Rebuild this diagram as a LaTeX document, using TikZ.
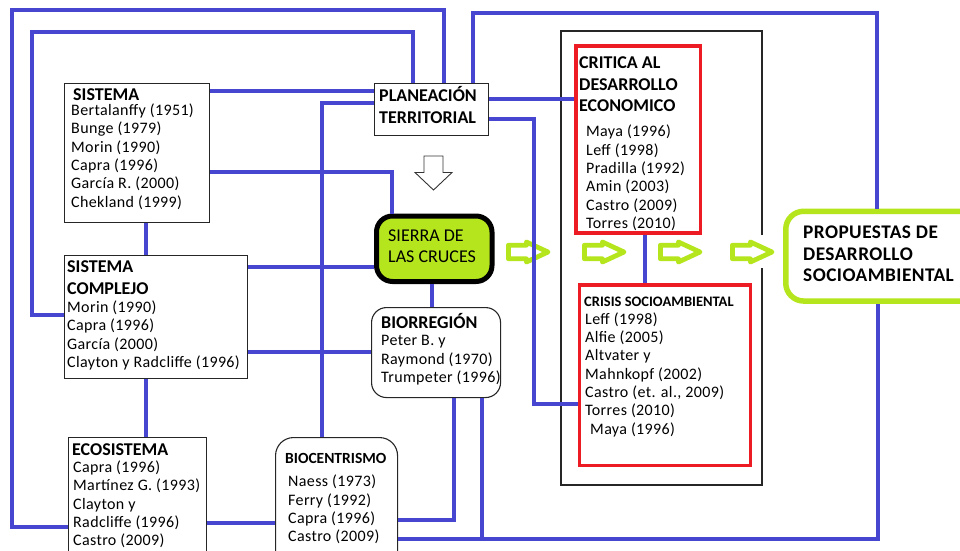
\documentclass[tikz,border=0pt]{standalone}
\usepackage{fontspec}
\setmainfont{Carlito}
\newfontfamily\bodyfont{Carlito}[LetterSpace=2.3]
\definecolor{linkblue}{RGB}{70,70,208}
\definecolor{boxred}{RGB}{237,28,36}
\definecolor{limegreen}{RGB}{181,230,29}
\newcommand\hdrfont{\fontsize{18}{21.7}\selectfont\rmfamily\bfseries}
\newcommand\firstline{\rule{0pt}{17pt}}
\begin{document}
\begin{tikzpicture}[x=1pt,y=-1pt,
  plainbox/.style={draw=black!85, line width=1.1pt, anchor=north west, inner sep=0pt},
  roundbox/.style={plainbox, rounded corners=15pt},
  redbox/.style={draw=boxred, line width=3.6pt, anchor=north west, inner sep=0pt},
  txt/.style={anchor=north west, inner sep=0pt, align=left, font=\bodyfont\fontsize{16}{18.3}\selectfont},
  hdrtxt/.style={anchor=north west, inner sep=0pt, align=left, font=\hdrfont},
  link/.style={draw=linkblue, line width=3.8pt},
  greenarrow/.style={draw=limegreen, line width=4.8pt, line join=round, fill=white},
]
\useasboundingbox (0,0) rectangle (960,550);

% thin frame around the two critique boxes, opened where the last arrow passes
\coordinate (frameNW) at (561,31);
\coordinate (frameSE) at (762,485);
\draw[line width=1.1pt, black!85] (frameSE |- 0,235) -- (frameSE |- frameNW) -- (frameNW)
  -- (frameNW |- frameSE) -- (frameSE) -- (frameSE |- 0,268);

% boxes
\node[plainbox, minimum width=145pt, minimum height=139pt] (sis) at (64,83) {};
\node[plainbox, minimum width=183pt, minimum height=123pt] (comp) at (64,255) {};
\node[plainbox, minimum width=138pt, minimum height=140pt] (eco) at (68,437) {};
\node[roundbox, minimum width=122pt, minimum height=140pt, rounded corners=18pt] (bioc) at (275,437) {};
\node[roundbox, minimum width=129pt, minimum height=90pt] (bior) at (371,307) {};
\node[plainbox, minimum width=114pt, minimum height=52pt] (plan) at (374,83) {};
\node[anchor=north west, inner sep=0pt, draw=black, line width=5pt, fill=limegreen,
      rounded corners=16pt, minimum width=115.5pt, minimum height=65.5pt] (sierra) at (374,213.5) {};
\node[redbox, minimum width=124.4pt, minimum height=187pt] (crit) at (574.3,44.3) {};
\node[redbox, minimum width=171pt, minimum height=180.7pt] (cris) at (577.7,283) {};
\node[anchor=north west, inner sep=0pt, draw=limegreen, line width=5.5pt, fill=white,
      rounded corners=18pt, minimum width=200pt, minimum height=89.8pt] (prop) at (783,208.5) {};

% hollow arrow from planning down to the region
\draw[line width=0.9pt, black!80, line join=miter] (424,156) -- (443,156) -- (443,172.5) -- (452,172.5)
  -- (433.5,190) -- (415,172.5) -- (424,172.5) -- cycle;

% green flow arrows
\foreach \x in {506,582,658,730} {
  \draw[greenarrow] (\x+2.4,245.2) -- ++(18,0) -- ++(0,-3.2) -- ++(21.6,10) -- ++(-21.6,10)
    -- ++(0,-3.2) -- ++(-18,0) -- cycle;
}

% texts
\node[txt] (sisT) at (71,83) {\firstline\hspace*{2pt}{\hdrfont SISTEMA}\\[-3pt]
  Bertalanffy (1951)\\ Bunge (1979)\\ Morin (1990)\\ Capra (1996)\\ García R. (2000)\\ Chekland (1999)};
\node[txt] (compT) at (67,255.7) {\firstline{\hdrfont SISTEMA}\\[3.3pt]{\hdrfont COMPLEJO}\\[-0.3pt]
  Morin (1990)\\ Capra (1996)\\ García (2000)\\ Clayton y Radcliffe (1996)};
\node[txt] (ecoT) at (73,438) {\firstline\hspace*{-1pt}{\hdrfont ECOSISTEMA}\\[-1pt]
  Capra (1996)\\ Martínez G. (1993)\\ Clayton y\\ Radcliffe (1996)\\ Castro (2009)};
\node[txt] (biocT) at (288,446.3) {\firstline\hspace*{-3pt}{\fontsize{15.5}{18}\selectfont\rmfamily\bfseries BIOCENTRISMO}\\[5.1pt]
  Naess (1973)\\ Ferry (1992)\\ Capra (1996)\\ Castro (2009)};
\node[txt] (biorT) at (381,311.3) {\firstline{\hdrfont BIORREGIÓN}\\[-0.9pt]
  Peter B. y\\ Raymond (1970)\\ Trumpeter (1996)};
\node[hdrtxt] (planT) at (379,84.7) {\firstline PLANEACIÓN\\ TERRITORIAL};
\node[hdrtxt, font=\fontsize{18}{21}\selectfont] (sierraT) at (388,224.7) {\firstline SIERRA DE\\ LAS CRUCES};
\node[txt] (critT) at (586,51.3) {\firstline\hspace*{-7pt}{\hdrfont CRITICA AL}\\[3.4pt]
  \hspace*{-7pt}{\hdrfont DESARROLLO}\\[3.4pt]\hspace*{-7pt}{\hdrfont ECONOMICO}\\[6.7pt]
  Maya (1996)\\ Leff (1998)\\ Pradilla (1992)\\ Amin (2003)\\ Castro (2009)\\ Torres (2010)};
\node[txt] (crisT) at (585,289.7) {\firstline\hspace*{-1pt}{\fontsize{14.5}{18}\selectfont\rmfamily\bfseries CRISIS SOCIOAMBIENTAL}\\[-1pt]
  Leff (1998)\\ Alfie (2005)\\ Altvater y\\ Mahnkopf (2002)\\ Castro (et. al., 2009)\\ Torres (2010)\\ \hspace*{5pt}Maya (1996)};
\node[hdrtxt, font=\bodyfont\fontsize{19.3}{21.7}\selectfont\bfseries] (propT) at (803,221.3) {\firstline PROPUESTAS DE\\ DESARROLLO\\ SOCIOAMBIENTAL};

% connectors
\draw[link] (plan.north -| 444,0) -- (444,10) -- (12,10) -- (12,527) -- (eco.west |- 0,527);
\draw[link] (plan.north -| 413,0) -- (413,32) -- (32,32) -- (32,315) -- (comp.west |- 0,315);
\draw[link] (plan.north -| 472.7,0) -- (472.7,13.3) -- (877,13.3) -- (prop.north -| 877,0);
\draw[link] (sis.east |- 0,91) -- (plan.west |- 0,91);
\draw[link] (plan.west |- 0,103.3) -- (322.3,103.3) -- (bioc.north -| 322.3,0);
\draw[link] (sis.east |- 0,172) -- (391.7,172) -- (sierra.north -| 391.7,0);
\draw[link] (sis.south -| 146,0) -- (comp.north -| 146,0);
\draw[link] (comp.south -| 146,0) -- (eco.north -| 146,0);
\draw[link] (comp.east |- 0,266.7) -- (sierra.west |- 0,266.7);
\draw[link] (comp.east |- 0,351.7) -- (bior.west |- 0,351.7);
\draw[link] (sierra.south -| 431.7,0) -- (bior.north -| 431.7,0);
\draw[link] (eco.east |- 0,523.3) -- (bioc.west |- 0,523.3);
\draw[link] (bior.south -| 454,0) -- (454,520) -- (bioc.east |- 0,520);
\draw[link] (bior.south -| 481.7,0) -- (481.7,539.3);
\draw[link] (bioc.east |- 0,539.3) -- (877.7,539.3) -- (prop.south -| 877.7,0);
\draw[link] (plan.east |- 0,99.3) -- (crit.west |- 0,99.3);
\draw[link] (plan.east |- 0,119) -- (534,119) -- (534,404) -- (cris.west |- 0,404);
\draw[link] (crit.south -| 645,0) -- (cris.north -| 645,0);
\end{tikzpicture}
\end{document}
